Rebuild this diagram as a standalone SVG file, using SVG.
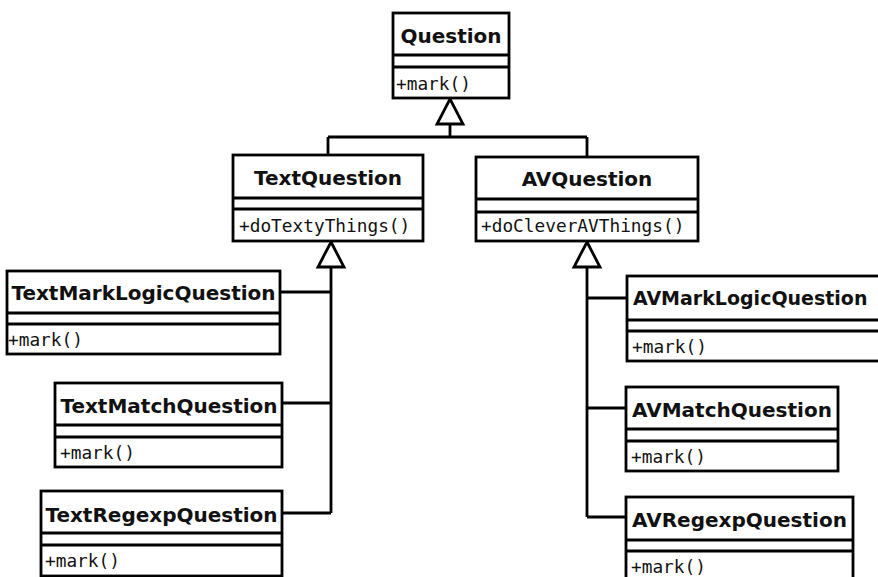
<svg xmlns="http://www.w3.org/2000/svg" xmlns:xlink="http://www.w3.org/1999/xlink" width="878" height="577" viewBox="0 0 878 577">
<style>
.box{fill:#fff;stroke:#000;stroke-width:2.8}
.sep{stroke:#000;stroke-width:2.8;fill:none}
.name{font-family:"DejaVu Sans",Verdana,sans-serif;font-weight:bold;font-size:20px;fill:#111;text-anchor:middle}
.meth{font-family:"DejaVu Sans Mono","Liberation Mono",monospace;font-size:17.8px;fill:#111}
.conn{stroke:#000;stroke-width:2.8;fill:none}
.tri{fill:#fff;stroke:#000;stroke-width:2.8;stroke-linejoin:miter}
</style>
<defs>
<path id="tri" class="tri" d="M0,0 L13,25 L-13,25 Z"/>
</defs>
<rect width="878" height="577" fill="#fff"/>

<g id="connectors">
<path class="conn" d="M450,124 V137 M328,137 H587 M328,137 V155 M587,137 V157"/>
<path class="conn" d="M331,267 V513 M280,292 H331 M282,403 H331 M282,513 H331"/>
<path class="conn" d="M587,266 V517 M587,298 H627 M587,408 H626 M587,517 H626"/>
<use xlink:href="#tri" transform="translate(450,99)"/>
<use xlink:href="#tri" transform="translate(331,242)"/>
<use xlink:href="#tri" transform="translate(587,242)"/>
</g>

<g id="Question">
<rect class="box" x="393" y="13" width="116" height="85"/>
<path class="sep" d="M393,55 H509 M393,67 H509"/>
<text class="name" x="451" y="43">Question</text>
<text class="meth" x="396" y="90">+mark()</text>
</g>

<g id="TextQuestion">
<rect class="box" x="233" y="155" width="190" height="86"/>
<path class="sep" d="M233,198 H423 M233,209 H423"/>
<text class="name" x="328" y="185">TextQuestion</text>
<text class="meth" x="239" y="232">+doTextyThings()</text>
</g>

<g id="AVQuestion">
<rect class="box" x="476" y="157" width="222" height="84"/>
<path class="sep" d="M476,199 H698 M476,212 H698"/>
<text class="name" x="587" y="186">AVQuestion</text>
<text class="meth" x="481" y="232">+doCleverAVThings()</text>
</g>

<g id="TextMarkLogicQuestion">
<rect class="box" x="7" y="271" width="273" height="83"/>
<path class="sep" d="M7,313 H280 M7,324 H280"/>
<text class="name" x="143.5" y="300">TextMarkLogicQuestion</text>
<text class="meth" x="8" y="346">+mark()</text>
</g>

<g id="TextMatchQuestion">
<rect class="box" x="55" y="383" width="227" height="84"/>
<path class="sep" d="M55,425 H282 M55,437 H282"/>
<text class="name" x="169" y="413">TextMatchQuestion</text>
<text class="meth" x="60" y="459">+mark()</text>
</g>

<g id="TextRegexpQuestion">
<rect class="box" x="41" y="491" width="241" height="85"/>
<path class="sep" d="M41,533 H282 M41,545 H282"/>
<text class="name" x="161.5" y="522">TextRegexpQuestion</text>
<text class="meth" x="45" y="567">+mark()</text>
</g>

<g id="AVMarkLogicQuestion">
<rect class="box" x="627" y="276" width="262" height="85"/>
<path class="sep" d="M627,320 H889 M627,331 H889"/>
<text class="name" x="633" y="305" style="text-anchor:start;font-size:19px">AVMarkLogicQuestion</text>
<text class="meth" x="632" y="353">+mark()</text>
</g>

<g id="AVMatchQuestion">
<rect class="box" x="626" y="387" width="212" height="84"/>
<path class="sep" d="M626,429 H838 M626,441 H838"/>
<text class="name" x="732" y="417">AVMatchQuestion</text>
<text class="meth" x="631" y="463">+mark()</text>
</g>

<g id="AVRegexpQuestion">
<rect class="box" x="626" y="497" width="227" height="90"/>
<path class="sep" d="M626,540 H853 M626,551 H853"/>
<text class="name" x="739.5" y="527">AVRegexpQuestion</text>
<text class="meth" x="631" y="573">+mark()</text>
</g>
</svg>
